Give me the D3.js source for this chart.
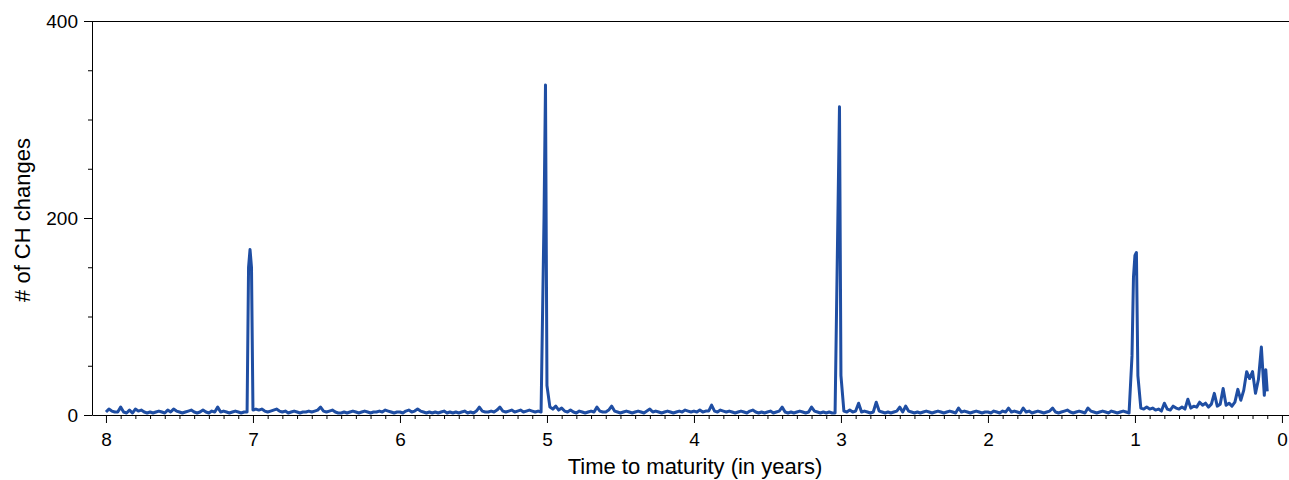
<!DOCTYPE html>
<html>
<head>
<meta charset="utf-8">
<script src="https://cdn.jsdelivr.net/npm/d3@7"></script>
<style>
  body { margin: 0; background: #fff; }
  text { font-family: "Liberation Sans", Arial, sans-serif; }
</style>
</head>
<body>
<div id="chart"></div>
<script>
/* CONSTANTS AND GLOBALS */
const width = 1289,
  height = 480,
  margin = { top: 21, bottom: 65, left: 92, right: 0 };

/* DATA */
// time to maturity runs from 8.00 years down to 0.10, one reading every 0.02 years
const tStart = 8.0, tStep = 0.02;

// # of CH changes, one row per year of maturity
const valuesY8 = [3,6,4,3,3,8,3,2,5,2, 6,4,5,3,2,3,2,3,4,3, 2,5,3,6,4,3,2,3,4,5, 3,2,3,5,3,2,4,3,8,3, 4,3,2,3,4,3,2,3,3,168];
const valuesY7 = [5,6,5,6,4,3,4,5,6,4, 3,4,2,3,4,3,2,3,3,4, 3,4,5,8,4,3,4,5,3,2, 2,3,2,3,4,3,2,3,4,3, 2,3,3,4,3,5,4,3,2,3];
const valuesY6 = [3,2,4,5,3,4,6,4,3,2, 3,2,3,2,3,4,2,3,2,3, 2,3,4,2,3,2,4,8,4,3, 3,4,3,5,8,4,3,4,5,3, 4,5,3,4,5,4,3,4,3,200];
const valuesY5 = [30,8,6,9,5,7,4,3,5,3, 2,4,3,2,3,4,3,8,4,3, 3,5,9,4,3,2,3,4,3,2, 3,4,3,2,4,6,3,4,3,2, 3,4,3,2,3,4,3,5,4,3];
const valuesY4 = [4,3,5,3,4,4,10,4,3,5, 4,3,4,3,2,3,4,3,2,4, 5,3,2,3,2,3,4,2,3,4, 8,3,2,3,2,3,4,3,2,3, 8,4,3,2,3,2,3,2,2,210];
const valuesY3 = [40,4,3,5,3,4,12,3,4,3, 2,3,13,4,3,2,3,2,3,4, 8,3,9,4,3,2,3,2,3,4, 3,2,3,4,3,2,3,4,3,2, 7,3,4,3,2,3,4,3,2,3];
const valuesY2 = [3,2,4,3,2,4,3,7,3,4, 3,2,7,3,4,2,3,4,3,2, 3,4,7,3,2,3,4,5,3,2, 3,4,3,2,7,4,3,2,3,4, 3,2,4,3,2,3,4,3,2,60];
const valuesY1 = [162,40,7,6,8,6,7,5,6,4, 12,6,5,9,7,6,8,6,16,7, 9,8,13,10,12,8,11,22,9,11, 27,10,12,9,13,26,15,25,44,37, 44,22,36,69,20,24];

// extra readings between the regular ones (peaks of the roll spikes)
const extraPoints = [[7.03,150],[7.01,150],[5.01,335],[3.01,313],[1.01,140],[0.99,165],[0.11,46]];

// axis ticks
const xMajorTicks = [8,7,6,5,4,3,2,1,0];
const yMajorTicks = [0,200,400];
const yMinorTicks = [50,100,150,250,300,350];

const xLabel = "Time to maturity (in years)";
const yLabel = "# of CH changes";

// build the series
const allValues = [].concat(valuesY8, valuesY7, valuesY6, valuesY5, valuesY4, valuesY3, valuesY2, valuesY1);
let series = allValues.map((v, i) => [+(tStart - i * tStep).toFixed(2), v]);
series = series.concat(extraPoints).sort((a, b) => b[0] - a[0]);

/* SCALES */
const xScale = d3.scaleLinear()
  .domain([8.095, -0.048])
  .range([margin.left, width - margin.right]);

const yScale = d3.scaleLinear()
  .domain([0, 400])
  .range([height - margin.bottom, margin.top]);

const svg = d3.select("#chart")
  .append("svg")
  .attr("width", width)
  .attr("height", height);

// top border of the plot box
svg.append("line")
  .attr("x1", margin.left).attr("x2", width - margin.right)
  .attr("y1", margin.top + 0.5).attr("y2", margin.top + 0.5)
  .attr("stroke", "#000");

/* AXES */
const xMinorTicks = d3.range(0, 81).map(d => d / 10).filter(d => d % 1 !== 0);

svg.append("g")
  .attr("transform", `translate(0, ${height - margin.bottom})`)
  .call(d3.axisBottom(xScale).tickValues(xMinorTicks).tickSize(4).tickFormat(""))
  .call(g => g.select(".domain").remove());

svg.append("g")
  .attr("class", "x-axis")
  .attr("transform", `translate(0, ${height - margin.bottom})`)
  .call(d3.axisBottom(xScale).tickValues(xMajorTicks).tickSize(8).tickSizeOuter(0).tickPadding(10).tickFormat(d3.format("d")));

svg.append("g")
  .attr("transform", `translate(${margin.left}, 0)`)
  .call(d3.axisLeft(yScale).tickValues(yMinorTicks).tickSize(4).tickFormat(""))
  .call(g => g.select(".domain").remove());

svg.append("g")
  .attr("class", "y-axis")
  .attr("transform", `translate(${margin.left}, 0)`)
  .call(d3.axisLeft(yScale).tickValues(yMajorTicks).tickSize(8).tickSizeOuter(0).tickPadding(6));

svg.selectAll(".x-axis text, .y-axis text")
  .attr("font-size", 19)
  .attr("font-family", "Liberation Sans, Arial, sans-serif")
  .attr("fill", "#000");

svg.selectAll(".tick line, .domain").attr("stroke", "#000");

// axis titles
svg.append("text")
  .attr("x", 695)
  .attr("y", 474)
  .attr("text-anchor", "middle")
  .attr("font-size", 22)
  .text(xLabel);

svg.append("text")
  .attr("transform", "translate(30, 220) rotate(-90)")
  .attr("text-anchor", "middle")
  .attr("font-size", 22)
  .text(yLabel);

/* LINE */
const lineFunc = d3.line()
  .x(d => xScale(d[0]))
  .y(d => yScale(d[1]));

svg.append("path")
  .datum(series)
  .attr("fill", "none")
  .attr("stroke", "#1f4ea3")
  .attr("stroke-width", 3)
  .attr("stroke-linejoin", "round")
  .attr("d", lineFunc);
</script>
</body>
</html>
